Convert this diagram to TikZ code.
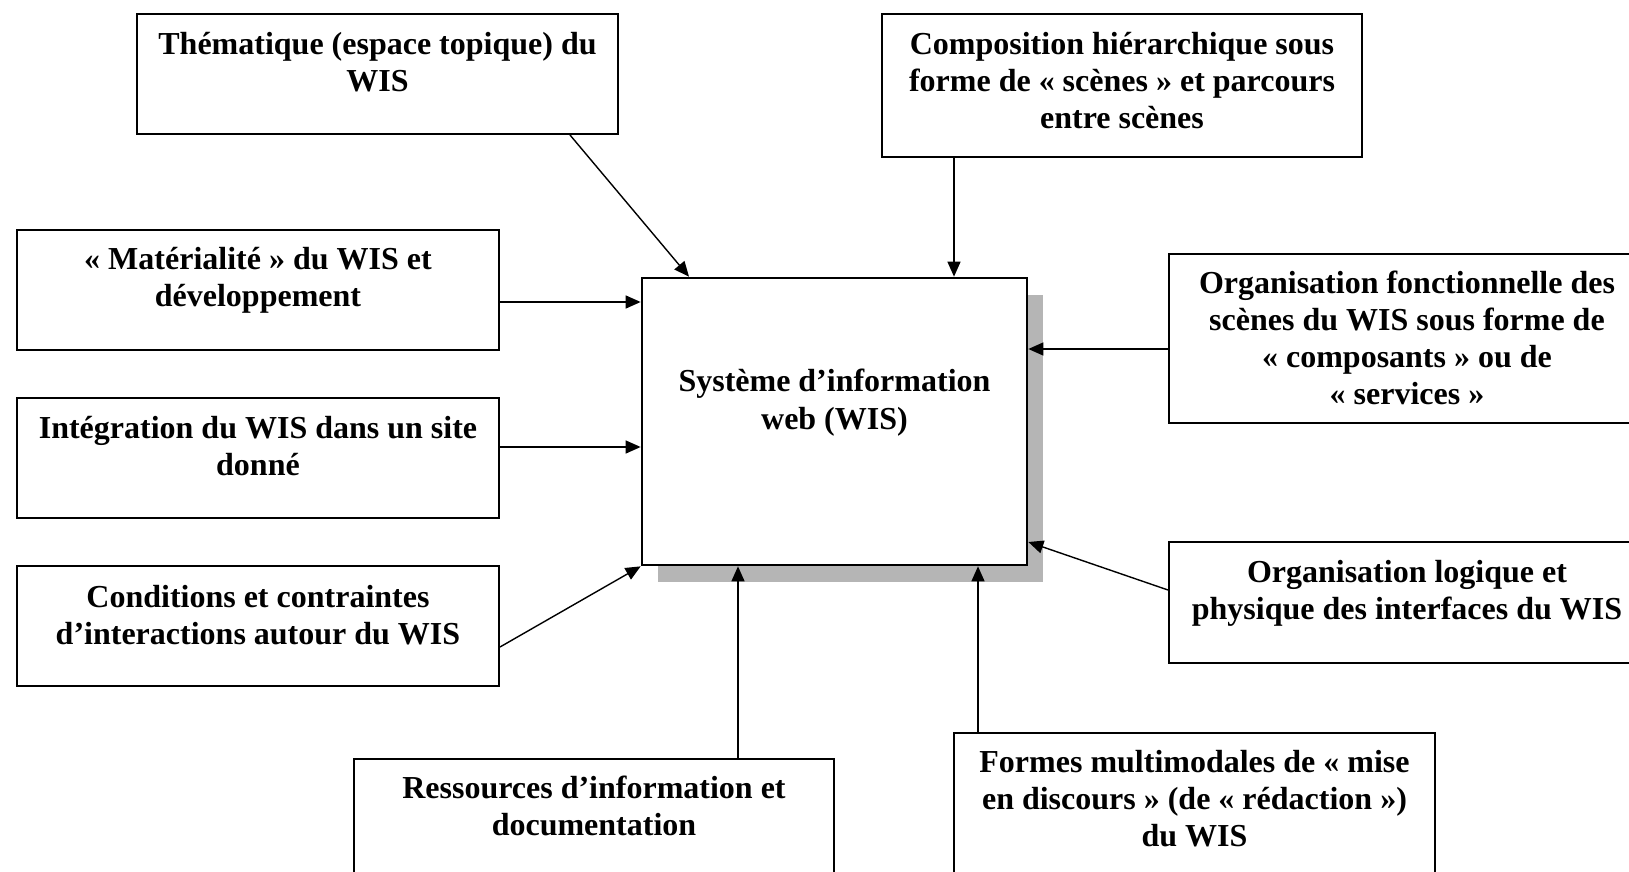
\documentclass[tikz,border=0pt]{standalone}
\usepackage{fontspec}
\setmainfont{Liberation Serif}
\usetikzlibrary{arrows.meta,fit,shadows}

\begin{document}
\begin{tikzpicture}[x=0.5pt,y=-0.5pt,
  box/.style={draw, line width=1pt, inner sep=0pt, fill=white},
  boxtext/.style={inner sep=0pt, anchor=base,
    font=\bfseries\fontsize{16pt}{18.5pt}\selectfont},
  arr/.style={-{Triangle[length=7.5pt,width=6.5pt]}, line width=0.7pt},
]
\useasboundingbox (0,0) rectangle (1629,872);
\clip (0,0) rectangle (1629,872);

% central system box with its shadow
\node[box, line width=1.35pt, fit={(642,278) (1027,565)},
  drop shadow={shadow xshift=8pt, shadow yshift=-8.5pt, fill=black!29, opacity=1}] (sys) {};
\node[boxtext, font=\bfseries\fontsize{16pt}{19pt}\selectfont] (tsys) at (834.5,391)
  {\parbox[t]{300pt}{\centering Système d’information\\web (WIS)}};

% surrounding boxes
\node[box, fit={(137,14) (618,134)}] (b1) {};
\node[boxtext] (t1) at (377.5,55)
  {\parbox[t]{300pt}{\centering Thématique (espace topique) du\\WIS}};

\node[box, fit={(882,14) (1362,157)}] (b2) {};
\node[boxtext] (t2) at (1122,55)
  {\parbox[t]{300pt}{\centering Composition hiérarchique sous\\forme de « scènes » et parcours\\entre scènes}};

\node[box, fit={(17,230) (499,350)}] (b3) {};
\node[boxtext] (t3) at (258,270)
  {\parbox[t]{300pt}{\centering « Matérialité » du WIS et\\développement}};

\node[box, fit={(17,398) (499,518)}] (b4) {};
\node[boxtext] (t4) at (258,438)
  {\parbox[t]{300pt}{\centering Intégration du WIS dans un site\\donné}};

\node[box, fit={(17,566) (499,686)}] (b5) {};
\node[boxtext] (t5) at (258,607)
  {\parbox[t]{300pt}{\centering Conditions et contraintes\\d’interactions autour du WIS}};

\node[box, fit={(1169,254) (1645,423)}] (b6) {};
\node[boxtext] (t6) at (1407,293)
  {\parbox[t]{300pt}{\centering Organisation fonctionnelle des\\scènes du WIS sous forme de\\« composants » ou de\\« services »}};

\node[box, fit={(1169,542) (1645,663)}] (b7) {};
\node[boxtext] (t7) at (1407,582)
  {\parbox[t]{300pt}{\centering Organisation logique et\\physique des interfaces du WIS}};

\node[box, fit={(354,759) (834,885)}] (b8) {};
\node[boxtext] (t8) at (594,798)
  {\parbox[t]{300pt}{\centering Ressources d’information et\\documentation}};

\node[box, fit={(954,733) (1435,885)}] (b9) {};
\node[boxtext] (t9) at (1194.5,772)
  {\parbox[t]{300pt}{\centering Formes multimodales de « mise\\en discours » (de « rédaction »)\\du WIS}};

% connectors into the system box
\draw[arr] (b1.south -| 570,0) -- (sys.north -| 689,0);
\draw[arr] (b2.south -| 954,0) -- (sys.north -| 954,0);
\draw[arr] (b3.east |- 0,302) -- (sys.west |- 0,302);
\draw[arr] (b4.east |- 0,447) -- (sys.west |- 0,447);
\draw[arr] (b5.east |- 0,647) -- (sys.south west);
\draw[arr] (b6.west |- 0,349) -- (sys.east |- 0,349);
\draw[arr] (b7.west |- 0,590) -- (sys.east |- 0,542);
\draw[arr] (b8.north -| 738,0) -- (sys.south -| 738,0);
\draw[arr] (b9.north -| 978,0) -- (sys.south -| 978,0);
\end{tikzpicture}
\end{document}
